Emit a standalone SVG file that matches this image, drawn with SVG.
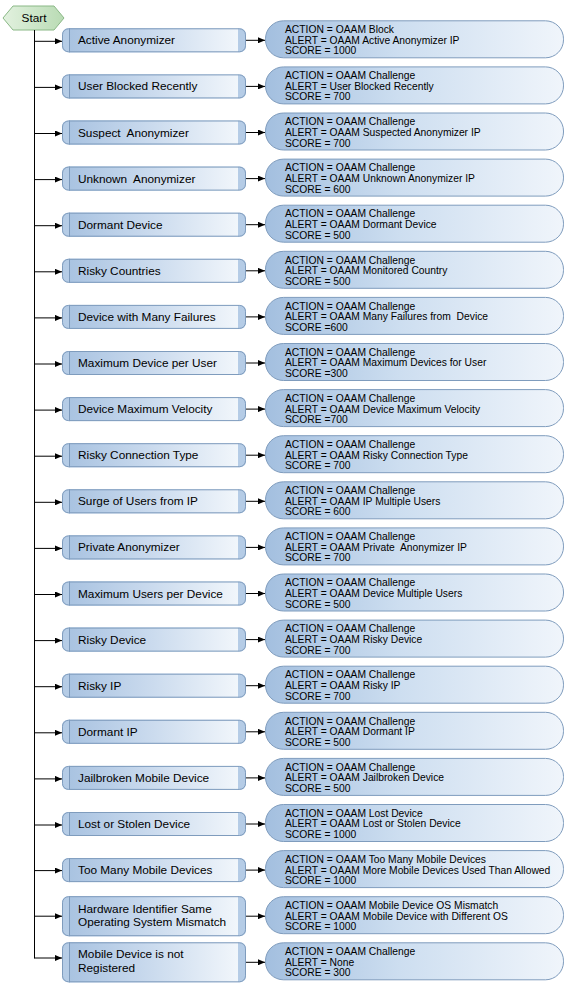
<svg xmlns="http://www.w3.org/2000/svg" width="570" height="987" viewBox="0 0 570 987">
<defs>
<linearGradient id="gL" x1="0" y1="0" x2="1" y2="0">
<stop offset="0" stop-color="#a9c3e1"/>
<stop offset="0.5" stop-color="#cbdbee"/>
<stop offset="1" stop-color="#f1f6fb"/>
</linearGradient>
<linearGradient id="gR" x1="0" y1="0" x2="1" y2="0">
<stop offset="0" stop-color="#a3bfdf"/>
<stop offset="0.45" stop-color="#cddef0"/>
<stop offset="1" stop-color="#f0f5fb"/>
</linearGradient>
<linearGradient id="gS" x1="0" y1="0" x2="1" y2="0">
<stop offset="0" stop-color="#e2f1df"/>
<stop offset="1" stop-color="#b9dbb4"/>
</linearGradient>
<marker id="ah" markerUnits="userSpaceOnUse" markerWidth="7" markerHeight="6" refX="7" refY="3" orient="auto">
<path d="M0,0 L7,3 L0,6 z" fill="#000"/>
</marker>
<g id="lb1">
<rect x="62" y="-12" width="184" height="24" rx="6" fill="#b5cce6"/>
<rect x="69" y="-12" width="169" height="24" fill="url(#gL)"/>
<line x1="69.5" y1="-12" x2="69.5" y2="12" stroke="#7c99bb"/>
<rect x="62.5" y="-11.5" width="183" height="23" rx="6" fill="none" stroke="#7f9cbd"/>
</g>
<g id="lb2">
<rect x="62" y="-20" width="184" height="40" rx="6" fill="#b5cce6"/>
<rect x="69" y="-20" width="169" height="40" fill="url(#gL)"/>
<line x1="69.5" y1="-20" x2="69.5" y2="20" stroke="#7c99bb"/>
<rect x="62.5" y="-19.5" width="183" height="39" rx="6" fill="none" stroke="#7f9cbd"/>
</g>
<g id="rb">
<rect x="265.5" y="-19.5" width="298" height="37" rx="18" fill="url(#gR)" stroke="#7f9cbd"/>
</g>
</defs>
<style>
.c{font-family:"Liberation Sans",Arial,sans-serif;font-size:11.8px;fill:#000;white-space:pre}
.r{font-family:"Liberation Sans",Arial,sans-serif;font-size:10.3px;fill:#000;white-space:pre}
.cn{stroke:#000;stroke-width:1;fill:none}
</style>
<g id="start">
<polygon points="3,18 13,6 54,6 64,18 54,30 13,30" fill="url(#gS)" stroke="#8ab886"/>
<text class="c" x="34" y="22.2" text-anchor="middle">Start</text>
</g>
<g id="connectors">
<line class="cn" x1="34.5" y1="30" x2="34.5" y2="958.5"/>
<g marker-end="url(#ah)" class="cn">
<line x1="34.5" y1="41.3" x2="62" y2="41.3"/>
<line x1="34.5" y1="87.4" x2="62" y2="87.4"/>
<line x1="34.5" y1="133.5" x2="62" y2="133.5"/>
<line x1="34.5" y1="179.6" x2="62" y2="179.6"/>
<line x1="34.5" y1="225.7" x2="62" y2="225.7"/>
<line x1="34.5" y1="271.8" x2="62" y2="271.8"/>
<line x1="34.5" y1="317.9" x2="62" y2="317.9"/>
<line x1="34.5" y1="364" x2="62" y2="364"/>
<line x1="34.5" y1="410.1" x2="62" y2="410.1"/>
<line x1="34.5" y1="456.2" x2="62" y2="456.2"/>
<line x1="34.5" y1="502.3" x2="62" y2="502.3"/>
<line x1="34.5" y1="548.4" x2="62" y2="548.4"/>
<line x1="34.5" y1="594.5" x2="62" y2="594.5"/>
<line x1="34.5" y1="640.6" x2="62" y2="640.6"/>
<line x1="34.5" y1="686.7" x2="62" y2="686.7"/>
<line x1="34.5" y1="732.8" x2="62" y2="732.8"/>
<line x1="34.5" y1="778.9" x2="62" y2="778.9"/>
<line x1="34.5" y1="825" x2="62" y2="825"/>
<line x1="34.5" y1="870.6" x2="62" y2="870.6"/>
<line x1="34.5" y1="916.2" x2="62" y2="916.2"/>
<line x1="34.5" y1="958" x2="62" y2="958"/>
<line x1="246" y1="40.3" x2="265" y2="40.3"/>
<line x1="246" y1="86.4" x2="265" y2="86.4"/>
<line x1="246" y1="132.5" x2="265" y2="132.5"/>
<line x1="246" y1="178.6" x2="265" y2="178.6"/>
<line x1="246" y1="224.7" x2="265" y2="224.7"/>
<line x1="246" y1="270.8" x2="265" y2="270.8"/>
<line x1="246" y1="316.9" x2="265" y2="316.9"/>
<line x1="246" y1="363" x2="265" y2="363"/>
<line x1="246" y1="409.1" x2="265" y2="409.1"/>
<line x1="246" y1="455.2" x2="265" y2="455.2"/>
<line x1="246" y1="501.3" x2="265" y2="501.3"/>
<line x1="246" y1="547.4" x2="265" y2="547.4"/>
<line x1="246" y1="593.5" x2="265" y2="593.5"/>
<line x1="246" y1="639.6" x2="265" y2="639.6"/>
<line x1="246" y1="685.7" x2="265" y2="685.7"/>
<line x1="246" y1="731.8" x2="265" y2="731.8"/>
<line x1="246" y1="777.9" x2="265" y2="777.9"/>
<line x1="246" y1="824" x2="265" y2="824"/>
<line x1="246" y1="870.1" x2="265" y2="870.1"/>
<line x1="246" y1="916.2" x2="265" y2="916.2"/>
<line x1="246" y1="962.3" x2="265" y2="962.3"/>
</g>
</g>

<g id="cond1" transform="translate(0,40.3)"><use href="#lb1"/><text class="c" x="78" y="4">Active Anonymizer</text></g>
<g id="res1" transform="translate(0,40.3)"><use href="#rb"/><text class="r" x="285" y="-7.3">ACTION = OAAM Block</text><text class="r" x="285" y="3.4">ALERT = OAAM Active Anonymizer IP</text><text class="r" x="285" y="14.1">SCORE = 1000</text></g>

<g id="cond2" transform="translate(0,86.4)"><use href="#lb1"/><text class="c" x="78" y="4">User Blocked Recently</text></g>
<g id="res2" transform="translate(0,86.4)"><use href="#rb"/><text class="r" x="285" y="-7.3">ACTION = OAAM Challenge</text><text class="r" x="285" y="3.4">ALERT = User Blocked Recently</text><text class="r" x="285" y="14.1">SCORE = 700</text></g>

<g id="cond3" transform="translate(0,132.5)"><use href="#lb1"/><text class="c" x="78" y="4">Suspect  Anonymizer</text></g>
<g id="res3" transform="translate(0,132.5)"><use href="#rb"/><text class="r" x="285" y="-7.3">ACTION = OAAM Challenge</text><text class="r" x="285" y="3.4">ALERT = OAAM Suspected Anonymizer IP</text><text class="r" x="285" y="14.1">SCORE = 700</text></g>

<g id="cond4" transform="translate(0,178.6)"><use href="#lb1"/><text class="c" x="78" y="4">Unknown  Anonymizer</text></g>
<g id="res4" transform="translate(0,178.6)"><use href="#rb"/><text class="r" x="285" y="-7.3">ACTION = OAAM Challenge</text><text class="r" x="285" y="3.4">ALERT = OAAM Unknown Anonymizer IP</text><text class="r" x="285" y="14.1">SCORE = 600</text></g>

<g id="cond5" transform="translate(0,224.7)"><use href="#lb1"/><text class="c" x="78" y="4">Dormant Device</text></g>
<g id="res5" transform="translate(0,224.7)"><use href="#rb"/><text class="r" x="285" y="-7.3">ACTION = OAAM Challenge</text><text class="r" x="285" y="3.4">ALERT = OAAM Dormant Device</text><text class="r" x="285" y="14.1">SCORE = 500</text></g>

<g id="cond6" transform="translate(0,270.8)"><use href="#lb1"/><text class="c" x="78" y="4">Risky Countries</text></g>
<g id="res6" transform="translate(0,270.8)"><use href="#rb"/><text class="r" x="285" y="-7.3">ACTION = OAAM Challenge</text><text class="r" x="285" y="3.4">ALERT = OAAM Monitored Country</text><text class="r" x="285" y="14.1">SCORE = 500</text></g>

<g id="cond7" transform="translate(0,316.9)"><use href="#lb1"/><text class="c" x="78" y="4">Device with Many Failures</text></g>
<g id="res7" transform="translate(0,316.9)"><use href="#rb"/><text class="r" x="285" y="-7.3">ACTION = OAAM Challenge</text><text class="r" x="285" y="3.4">ALERT = OAAM Many Failures from  Device</text><text class="r" x="285" y="14.1">SCORE =600</text></g>

<g id="cond8" transform="translate(0,363)"><use href="#lb1"/><text class="c" x="78" y="4">Maximum Device per User</text></g>
<g id="res8" transform="translate(0,363)"><use href="#rb"/><text class="r" x="285" y="-7.3">ACTION = OAAM Challenge</text><text class="r" x="285" y="3.4">ALERT = OAAM Maximum Devices for User</text><text class="r" x="285" y="14.1">SCORE =300</text></g>

<g id="cond9" transform="translate(0,409.1)"><use href="#lb1"/><text class="c" x="78" y="4">Device Maximum Velocity</text></g>
<g id="res9" transform="translate(0,409.1)"><use href="#rb"/><text class="r" x="285" y="-7.3">ACTION = OAAM Challenge</text><text class="r" x="285" y="3.4">ALERT = OAAM Device Maximum Velocity</text><text class="r" x="285" y="14.1">SCORE =700</text></g>

<g id="cond10" transform="translate(0,455.2)"><use href="#lb1"/><text class="c" x="78" y="4">Risky Connection Type</text></g>
<g id="res10" transform="translate(0,455.2)"><use href="#rb"/><text class="r" x="285" y="-7.3">ACTION = OAAM Challenge</text><text class="r" x="285" y="3.4">ALERT = OAAM Risky Connection Type</text><text class="r" x="285" y="14.1">SCORE = 700</text></g>

<g id="cond11" transform="translate(0,501.3)"><use href="#lb1"/><text class="c" x="78" y="4">Surge of Users from IP</text></g>
<g id="res11" transform="translate(0,501.3)"><use href="#rb"/><text class="r" x="285" y="-7.3">ACTION = OAAM Challenge</text><text class="r" x="285" y="3.4">ALERT = OAAM IP Multiple Users</text><text class="r" x="285" y="14.1">SCORE = 600</text></g>

<g id="cond12" transform="translate(0,547.4)"><use href="#lb1"/><text class="c" x="78" y="4">Private Anonymizer</text></g>
<g id="res12" transform="translate(0,547.4)"><use href="#rb"/><text class="r" x="285" y="-7.3">ACTION = OAAM Challenge</text><text class="r" x="285" y="3.4">ALERT = OAAM Private  Anonymizer IP</text><text class="r" x="285" y="14.1">SCORE = 700</text></g>

<g id="cond13" transform="translate(0,593.5)"><use href="#lb1"/><text class="c" x="78" y="4">Maximum Users per Device</text></g>
<g id="res13" transform="translate(0,593.5)"><use href="#rb"/><text class="r" x="285" y="-7.3">ACTION = OAAM Challenge</text><text class="r" x="285" y="3.4">ALERT = OAAM Device Multiple Users</text><text class="r" x="285" y="14.1">SCORE = 500</text></g>

<g id="cond14" transform="translate(0,639.6)"><use href="#lb1"/><text class="c" x="78" y="4">Risky Device</text></g>
<g id="res14" transform="translate(0,639.6)"><use href="#rb"/><text class="r" x="285" y="-7.3">ACTION = OAAM Challenge</text><text class="r" x="285" y="3.4">ALERT = OAAM Risky Device</text><text class="r" x="285" y="14.1">SCORE = 700</text></g>

<g id="cond15" transform="translate(0,685.7)"><use href="#lb1"/><text class="c" x="78" y="4">Risky IP</text></g>
<g id="res15" transform="translate(0,685.7)"><use href="#rb"/><text class="r" x="285" y="-7.3">ACTION = OAAM Challenge</text><text class="r" x="285" y="3.4">ALERT = OAAM Risky IP</text><text class="r" x="285" y="14.1">SCORE = 700</text></g>

<g id="cond16" transform="translate(0,731.8)"><use href="#lb1"/><text class="c" x="78" y="4">Dormant IP</text></g>
<g id="res16" transform="translate(0,731.8)"><use href="#rb"/><text class="r" x="285" y="-7.3">ACTION = OAAM Challenge</text><text class="r" x="285" y="3.4">ALERT = OAAM Dormant IP</text><text class="r" x="285" y="14.1">SCORE = 500</text></g>

<g id="cond17" transform="translate(0,777.9)"><use href="#lb1"/><text class="c" x="78" y="4">Jailbroken Mobile Device</text></g>
<g id="res17" transform="translate(0,777.9)"><use href="#rb"/><text class="r" x="285" y="-7.3">ACTION = OAAM Challenge</text><text class="r" x="285" y="3.4">ALERT = OAAM Jailbroken Device</text><text class="r" x="285" y="14.1">SCORE = 500</text></g>

<g id="cond18" transform="translate(0,824)"><use href="#lb1"/><text class="c" x="78" y="4">Lost or Stolen Device</text></g>
<g id="res18" transform="translate(0,824)"><use href="#rb"/><text class="r" x="285" y="-7.3">ACTION = OAAM Lost Device</text><text class="r" x="285" y="3.4">ALERT = OAAM Lost or Stolen Device</text><text class="r" x="285" y="14.1">SCORE = 1000</text></g>

<g id="cond19" transform="translate(0,870.1)"><use href="#lb1"/><text class="c" x="78" y="4">Too Many Mobile Devices</text></g>
<g id="res19" transform="translate(0,870.1)"><use href="#rb"/><text class="r" x="285" y="-7.3">ACTION = OAAM Too Many Mobile Devices</text><text class="r" x="285" y="3.4">ALERT = OAAM More Mobile Devices Used Than Allowed</text><text class="r" x="285" y="14.1">SCORE = 1000</text></g>

<g id="cond20" transform="translate(0,916.2)"><use href="#lb2"/><text class="c" x="78" y="-3.5">Hardware Identifier Same</text><text class="c" x="78" y="9.8">Operating System Mismatch</text></g>
<g id="res20" transform="translate(0,916.2)"><use href="#rb"/><text class="r" x="285" y="-7.3">ACTION = OAAM Mobile Device OS Mismatch</text><text class="r" x="285" y="3.4">ALERT = OAAM Mobile Device with Different OS</text><text class="r" x="285" y="14.1">SCORE = 1000</text></g>

<g id="cond21" transform="translate(0,962.3)"><use href="#lb2"/><text class="c" x="78" y="-4">Mobile Device is not</text><text class="c" x="78" y="9.4">Registered</text></g>
<g id="res21" transform="translate(0,962.3)"><use href="#rb"/><text class="r" x="285" y="-7.3">ACTION = OAAM Challenge</text><text class="r" x="285" y="3.4">ALERT = None</text><text class="r" x="285" y="14.1">SCORE = 300</text></g>
</svg>
